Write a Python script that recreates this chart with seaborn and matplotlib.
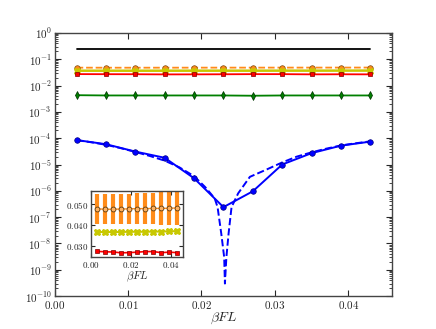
import numpy as np
import pandas as pd
import matplotlib
matplotlib.use("Agg")
import matplotlib.pyplot as plt
import seaborn as sns
from matplotlib.ticker import FuncFormatter, LogLocator, FixedLocator

# datos
beta_fl = [0.003, 0.007, 0.011, 0.015, 0.019, 0.023, 0.027, 0.031, 0.035, 0.039, 0.043]

negro = [0.245, 0.245, 0.245, 0.245, 0.245, 0.245, 0.245, 0.245, 0.245, 0.245, 0.245]
naranja = [0.0478, 0.0476, 0.0476, 0.0477, 0.0478, 0.0479, 0.0479, 0.0480, 0.0480, 0.0481, 0.0482]
naranja_err = [0.0072, 0.0072, 0.0073, 0.0073, 0.0074, 0.0075, 0.0076, 0.0077, 0.0078, 0.0079, 0.0081]
amarillo = [0.0366, 0.0366, 0.0366, 0.0366, 0.0367, 0.0367, 0.0367, 0.0368, 0.0368, 0.0369, 0.0370]
rojo = [0.0272, 0.0270, 0.0269, 0.0265, 0.0266, 0.0268, 0.0271, 0.0271, 0.0266, 0.0268, 0.0266]
verde = [0.0043, 0.0042, 0.0042, 0.0042, 0.0042, 0.0042, 0.0041, 0.0042, 0.0042, 0.0042, 0.0042]
azul = [8.5e-5, 5.9e-5, 3.1e-5, 1.8e-5, 3.0e-6, 2.4e-7, 9.6e-7, 1.0e-5, 2.7e-5, 5.2e-5, 7.4e-5]

# curva teorica (discontinua)
x_teo = [0.003, 0.005, 0.007, 0.009, 0.011, 0.013, 0.015, 0.017, 0.019, 0.0205, 0.0218,
         0.0222, 0.0227, 0.0231, 0.0232, 0.0234, 0.0237, 0.0241, 0.025, 0.0266, 0.0289,
         0.031, 0.033, 0.035, 0.037, 0.039, 0.041, 0.043]
y_teo = [8.4e-5, 7.0e-5, 5.6e-5, 4.2e-5, 3.0e-5, 2.1e-5, 1.4e-5, 7.8e-6, 3.6e-6, 1.4e-6, 5.2e-7,
         2.4e-7, 2.4e-8, 3.0e-9, 3.0e-10, 3.0e-9, 2.4e-8, 2.4e-7, 8.0e-7, 3.4e-6, 6.5e-6,
         1.2e-5, 2.0e-5, 2.9e-5, 4.0e-5, 5.3e-5, 6.4e-5, 7.6e-5]

df = pd.DataFrame({"x": beta_fl, "negro": negro, "naranja": naranja, "amarillo": amarillo,
                   "rojo": rojo, "verde": verde, "azul": azul})
df_teo = pd.DataFrame({"x": x_teo, "y": y_teo})

sns.set_style("ticks")
plt.rcParams.update({
    "font.family": ["DejaVu Serif"],
    "mathtext.fontset": "cm",
    "xtick.direction": "in", "ytick.direction": "in",
    "xtick.top": True, "ytick.right": True,
    "xtick.major.size": 4, "ytick.major.size": 4,
    "xtick.minor.size": 2, "ytick.minor.size": 2,
    "axes.linewidth": 1.0,
})

c_naranja = "#ff8c1a"
c_amarillo = "#c8c800"

fig = plt.figure(figsize=(4.36, 3.29), dpi=100)
ax = fig.add_axes([0.125, 0.1, 0.775, 0.8])

sns.lineplot(data=df, x="x", y="negro", color="k", lw=1.3, ax=ax)
sns.lineplot(data=df, x="x", y="naranja", color=c_naranja, lw=1.3, ls="--", marker="o",
             markersize=4, markeredgecolor="#7a4a10", markeredgewidth=0.5, ax=ax)
sns.lineplot(data=df, x="x", y="amarillo", color=c_amarillo, lw=1.8, marker="X",
             markersize=5, markeredgecolor=c_amarillo, ax=ax)
sns.lineplot(data=df, x="x", y="rojo", color="r", lw=1.3, marker="s",
             markersize=3.5, markeredgecolor="#800000", markeredgewidth=0.5, ax=ax)
sns.lineplot(data=df, x="x", y="verde", color="#008000", lw=1.3, marker="d",
             markersize=4, markeredgecolor="#003000", markeredgewidth=0.5, ax=ax)
sns.lineplot(data=df_teo, x="x", y="y", color="b", lw=1.4, ls="--", ax=ax)
sns.lineplot(data=df, x="x", y="azul", color="b", lw=1.4, marker="o",
             markersize=4, markeredgecolor="#000080", markeredgewidth=0.5, ax=ax)

ax.set_yscale("log")
ax.set_ylim(1e-10, 1)
ax.set_xlim(0, 0.046)
ax.xaxis.set_major_locator(FixedLocator([0.0, 0.01, 0.02, 0.03, 0.04]))
ax.xaxis.set_major_formatter(FuncFormatter(lambda v, p: f"${v:.2f}$"))
ax.yaxis.set_major_locator(LogLocator(base=10, numticks=12))
ax.yaxis.set_minor_locator(LogLocator(base=10, subs=np.arange(2, 10), numticks=12))
ax.yaxis.set_major_formatter(FuncFormatter(lambda v, p: f"$10^{{{int(round(np.log10(v)))}}}$"))
ax.tick_params(labelsize=8, pad=2)
ax.set_xlabel(r"$\beta FL$", fontsize=10, labelpad=0)
ax.set_ylabel("")
for s in ax.spines.values():
    s.set_color("#444444")

# inset
axi = fig.add_axes([0.209, 0.219, 0.211, 0.2015])
axi.errorbar(beta_fl, naranja, yerr=naranja_err, fmt="none", ecolor=c_naranja,
             elinewidth=3, capsize=0, zorder=1)
sns.lineplot(x=beta_fl, y=naranja, color=c_naranja, lw=1.0, marker="o", markersize=3.5,
             markerfacecolor="#ffb060", markeredgecolor="#5a3a10", markeredgewidth=0.6, ax=axi)
sns.lineplot(x=beta_fl, y=amarillo, color=c_amarillo, lw=1.5, marker="X", markersize=5,
             markeredgecolor=c_amarillo, ax=axi)
sns.lineplot(x=beta_fl, y=rojo, color="r", lw=1.2, marker="s", markersize=3.5,
             markeredgecolor="#800000", markeredgewidth=0.5, ax=axi)
axi.set_xlim(0, 0.046)
axi.set_ylim(0.0245, 0.0566)
axi.xaxis.set_major_locator(FixedLocator([0.0, 0.02, 0.04]))
axi.yaxis.set_major_locator(FixedLocator([0.030, 0.040, 0.050]))
axi.xaxis.set_major_formatter(FuncFormatter(lambda v, p: f"${v:.2f}$"))
axi.yaxis.set_major_formatter(FuncFormatter(lambda v, p: f"${v:.3f}$"))
axi.tick_params(labelsize=6.5, length=3, pad=2)
axi.set_xlabel(r"$\beta FL$", fontsize=8, labelpad=0)
for s in axi.spines.values():
    s.set_color("#444444")

fig.savefig("out.png", dpi=100)
